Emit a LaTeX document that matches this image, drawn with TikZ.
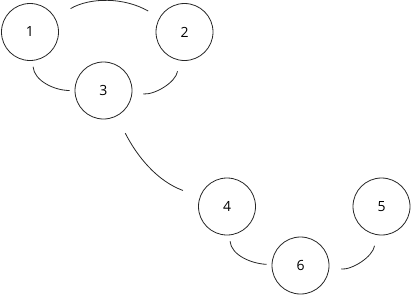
\documentclass[tikz,border=0pt]{standalone}
\usepackage{fontspec}
\setmainfont{Open Sans}
\begin{document}
\begin{tikzpicture}[x=1pt,y=-1pt,
  vert/.style={circle,draw=black!85,line width=0.8pt,minimum size=57pt,inner sep=0pt,font=\fontsize{14}{16}\selectfont},
  link/.style={draw=black!85,line width=0.8pt}]
\useasboundingbox (0,0) rectangle (412,295);
\node[vert] (n1) at (30,32) {1};
\node[vert] (n2) at (184.5,32) {2};
\node[vert] (n3) at (103.5,90.5) {3};
\node[vert] (n4) at (227,206.5) {4};
\node[vert] (n5) at (381.5,206.5) {5};
\node[vert] (n6) at (300.5,265.5) {6};
\draw[link,shorten <=18pt,shorten >=13pt] (n1) to[out=30,in=150] (n2);
\draw[link,shorten <=6pt,shorten >=5pt] (n1) to[out=-85,in=180] (n3);
\draw[link,shorten <=11pt,shorten >=11pt] (n2) to[out=-100,in=-5] (n3);
\draw[link,shorten <=19pt,shorten >=18pt] (n3) to[out=-63,in=160] (n4);
\draw[link,shorten <=6pt,shorten >=5pt] (n4) to[out=-85,in=178] (n6);
\draw[link,shorten <=12pt,shorten >=11pt] (n6) to[out=-5,in=-100] (n5);
\end{tikzpicture}
\end{document}
